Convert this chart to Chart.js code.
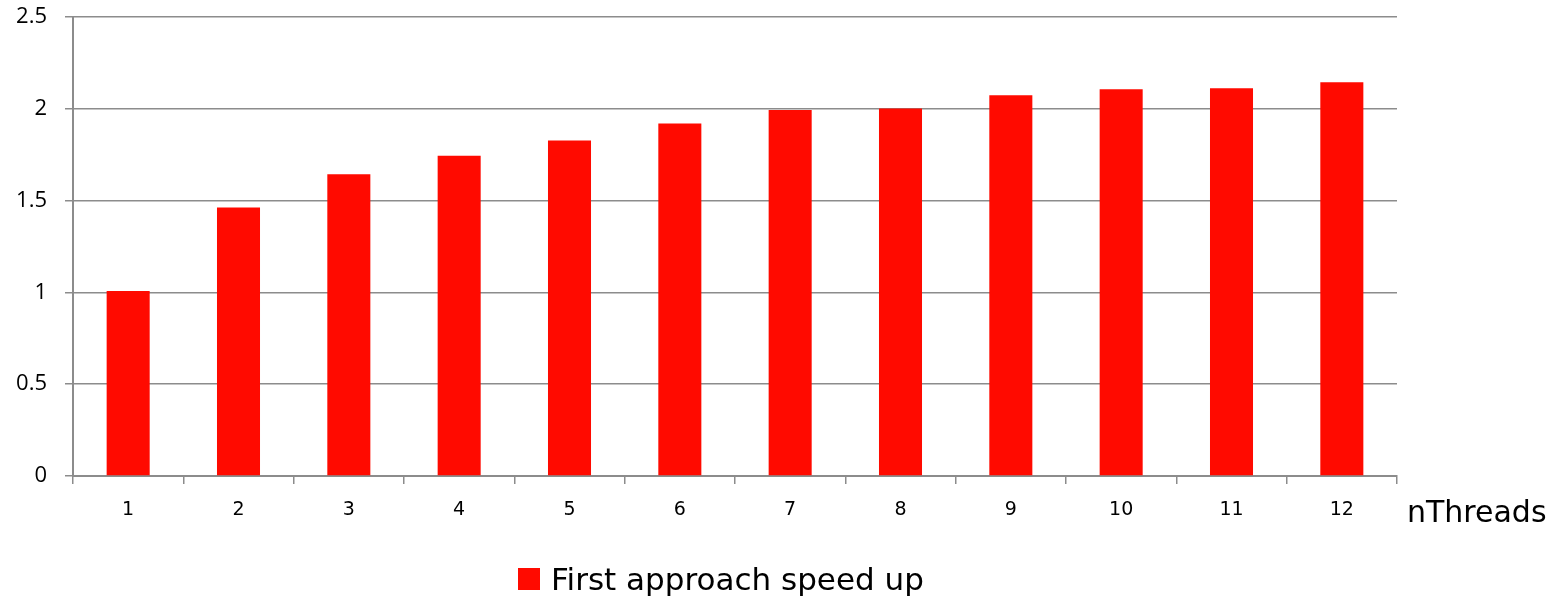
<!DOCTYPE html>
<html>
<head>
<meta charset="utf-8">
<style>
  html, body { margin: 0; padding: 0; background: #ffffff; }
  #wrap { width: 1568px; height: 598px; position: relative; }
  canvas { display: block; }
</style>
<script src="https://cdn.jsdelivr.net/npm/chart.js@4/dist/chart.umd.min.js"></script>
</head>
<body>
<div id="wrap"><canvas id="c" width="1568" height="598"></canvas></div>
<script>
const categories = ["1", "2", "3", "4", "5", "6", "7", "8", "9", "10", "11", "12"];
const speedUp = [1.007, 1.463, 1.644, 1.744, 1.827, 1.920, 1.993, 2.002, 2.074, 2.107, 2.112, 2.145];
const seriesName = "First approach speed up";
const xAxisTitle = "nThreads";
const yMin = 0, yMax = 2.5, yStep = 0.5;

const RED = "#ff0a00";
const GRID = "#8c8c8c";

const extras = {
  id: "extras",
  afterDraw(chart) {
    const ctx = chart.ctx;
    const area = chart.chartArea;
    ctx.save();
    ctx.fillStyle = "#000000";
    ctx.font = "30px 'DejaVu Sans'";
    ctx.textAlign = "left";
    ctx.textBaseline = "alphabetic";
    ctx.fillText(xAxisTitle, area.right + 10, area.bottom + 46);
    const boxX = area.left + 445, boxY = area.bottom + 92;
    ctx.fillStyle = RED;
    ctx.fillRect(boxX, boxY, 22, 22);
    ctx.fillStyle = "#000000";
    ctx.font = "31px 'DejaVu Sans'";
    ctx.fillText(chart.data.datasets[0].label, boxX + 33, boxY + 22);
    ctx.restore();
  }
};

new Chart(document.getElementById("c"), {
  type: "bar",
  data: {
    labels: categories,
    datasets: [{
      label: seriesName,
      data: speedUp,
      backgroundColor: RED,
      borderWidth: 0,
      categoryPercentage: 1.0,
      barPercentage: 0.39
    }]
  },
  options: {
    responsive: false,
    animation: false,
    devicePixelRatio: 1,
    layout: { padding: { left: 0, right: 171, top: 17, bottom: 0 } },
    plugins: {
      legend: { display: false },
      tooltip: { enabled: false }
    },
    scales: {
      x: {
        offset: true,
        grid: {
          offset: true,
          drawOnChartArea: false,
          drawTicks: true,
          tickLength: 8,
          color: GRID,
          lineWidth: 1.5
        },
        border: { display: true, color: GRID, width: 2 },
        ticks: {
          color: "#000000",
          font: { family: "DejaVu Sans", size: 19 },
          padding: 15,
          maxRotation: 0,
          autoSkip: false
        },
        afterFit(scale) { scale.height = 598 - 476; scale.paddingLeft = 0; scale.paddingRight = 0; }
      },
      y: {
        min: yMin,
        max: yMax,
        ticks: {
          stepSize: yStep,
          color: "#000000",
          font: { family: "Open Sans", size: 22 },
          padding: 18,
          callback: (v) => String(Number(v))
        },
        grid: {
          color: GRID,
          lineWidth: 1.5,
          drawTicks: true,
          tickLength: 8
        },
        border: { display: true, color: GRID, width: 2 },
        afterFit(scale) { scale.width = 73; scale.paddingTop = 0; scale.paddingBottom = 0; }
      }
    }
  },
  plugins: [extras]
});
</script>
</body>
</html>
